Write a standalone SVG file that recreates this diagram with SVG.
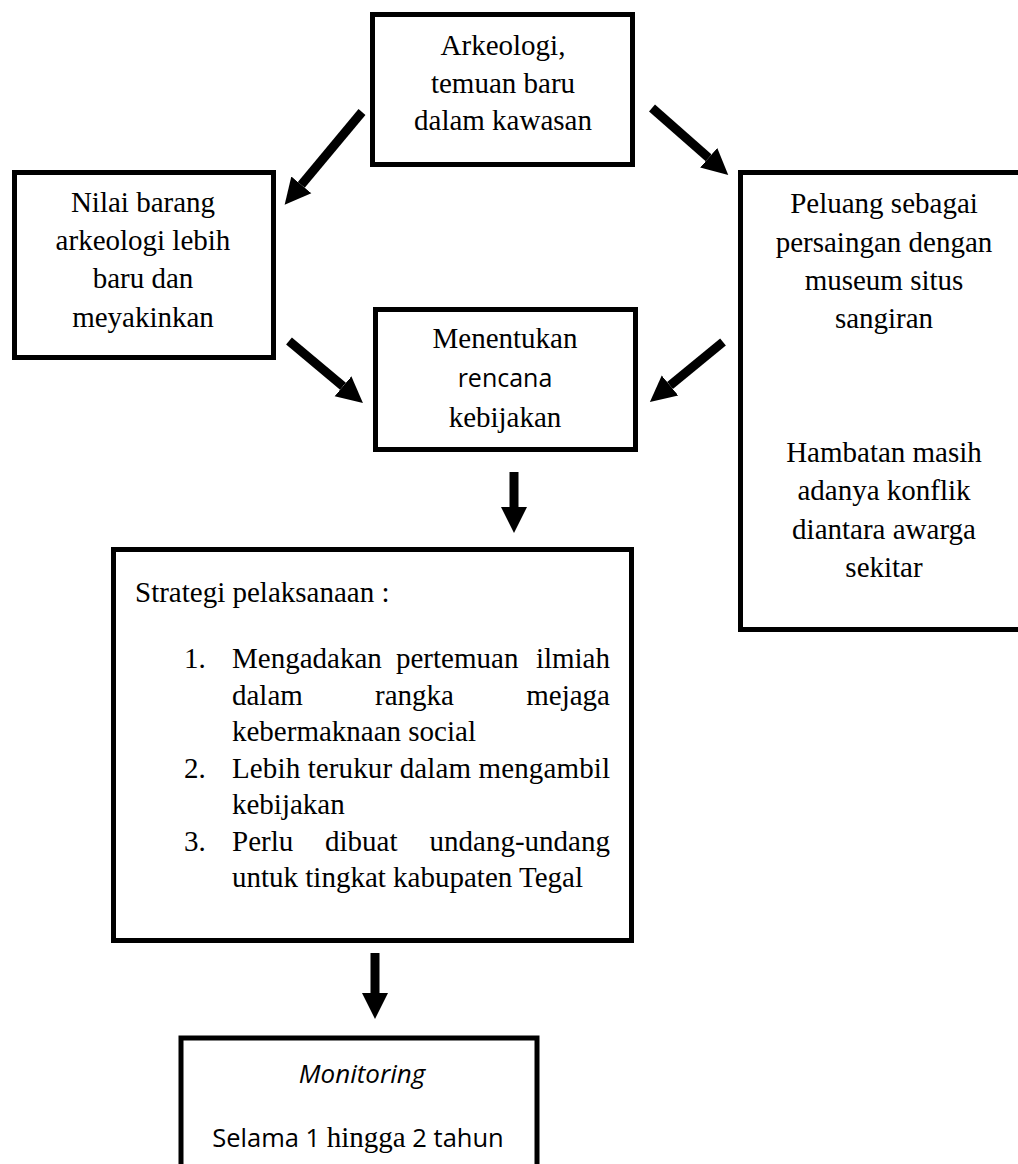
<svg xmlns="http://www.w3.org/2000/svg" width="1018" height="1164" viewBox="0 0 1018 1164">
<style>
.box{fill:#fff;stroke:#000;stroke-width:5}
.t{font-family:"Liberation Serif","Times New Roman",serif;font-size:29px;fill:#000}
.c{text-anchor:middle}
.s{font-family:"Open Sans","Noto Sans",sans-serif;fill:#000}
.conn{stroke:#000;stroke-width:9;fill:none}
</style>
<defs>
<marker id="ah" markerUnits="userSpaceOnUse" markerWidth="28" markerHeight="30" viewBox="0 -15 28 30" refX="0" refY="0" orient="auto">
<path d="M0,-13 L26,0 L0,13 z" fill="#000"/>
</marker>
</defs>
<rect width="1018" height="1164" fill="#fff"/>
<g id="connectors">
<line class="conn" x1="362" y1="112" x2="301.3" y2="184.8" marker-end="url(#ah)"/>
<line class="conn" x1="652" y1="108" x2="708.7" y2="157.8" marker-end="url(#ah)"/>
<line class="conn" x1="289" y1="341" x2="343" y2="386.3" marker-end="url(#ah)"/>
<line class="conn" x1="723" y1="342" x2="670" y2="385.5" marker-end="url(#ah)"/>
<line class="conn" x1="514" y1="472" x2="514" y2="507" marker-end="url(#ah)"/>
<line class="conn" x1="375" y1="953" x2="375" y2="993" marker-end="url(#ah)"/>
</g>
<g id="node-arkeologi">
<rect class="box" x="372.5" y="14.5" width="260" height="150"/>
<text class="t c" x="503" y="55">Arkeologi,</text>
<text class="t c" x="503" y="92.5">temuan baru</text>
<text class="t c" x="503" y="130">dalam kawasan</text>
</g>
<g id="node-nilai">
<rect class="box" x="14.5" y="172.5" width="259" height="185"/>
<text class="t c" x="143" y="212">Nilai barang</text>
<text class="t c" x="143" y="250">arkeologi lebih</text>
<text class="t c" x="143" y="288">baru dan</text>
<text class="t c" x="143" y="327">meyakinkan</text>
</g>
<g id="node-peluang">
<rect class="box" x="740.5" y="172.5" width="300" height="457"/>
<text class="t c" x="884" y="213">Peluang sebagai</text>
<text class="t c" x="884" y="252">persaingan dengan</text>
<text class="t c" x="884" y="290">museum situs</text>
<text class="t c" x="884" y="328">sangiran</text>
<text class="t c" x="884" y="462">Hambatan masih</text>
<text class="t c" x="884" y="500">adanya konflik</text>
<text class="t c" x="884" y="539">diantara awarga</text>
<text class="t c" x="884" y="577">sekitar</text>
</g>
<g id="node-menentukan">
<rect class="box" x="375.5" y="309.5" width="260" height="140"/>
<text class="t c" x="505" y="348">Menentukan</text>
<text class="s c" x="505" y="387" font-size="25">rencana</text>
<text class="t c" x="505" y="427">kebijakan</text>
</g>
<g id="node-strategi">
<rect class="box" x="113.5" y="549.5" width="518" height="391"/>
<text class="t" x="135" y="602">Strategi pelaksanaan :</text>
<text class="t" x="184" y="668">1.</text>
<text class="t" x="232" y="668">Mengadakan</text>
<text class="t" x="396" y="668">pertemuan</text>
<text class="t" x="610" y="668" text-anchor="end">ilmiah</text>
<text class="t" x="232" y="704.5">dalam</text>
<text class="t" x="375" y="704.5">rangka</text>
<text class="t" x="610" y="704.5" text-anchor="end">mejaga</text>
<text class="t" x="232" y="741">kebermaknaan social</text>
<text class="t" x="184" y="777.5">2.</text>
<text class="t" x="232" y="777.5" textLength="378" lengthAdjust="spacing">Lebih terukur dalam mengambil</text>
<text class="t" x="232" y="814">kebijakan</text>
<text class="t" x="184" y="850.5">3.</text>
<text class="t" x="232" y="850.5">Perlu</text>
<text class="t" x="325" y="850.5">dibuat</text>
<text class="t" x="610" y="850.5" text-anchor="end">undang-undang</text>
<text class="t" x="232" y="887">untuk tingkat kabupaten Tegal</text>
</g>
<g id="node-monitoring">
<rect class="box" x="181" y="1038" width="356" height="200" stroke-width="6"/>
<text class="s c" x="362" y="1083" font-size="26" font-style="italic">Monitoring</text>
<text class="s c" x="358" y="1147" font-size="25.5">Selama 1 <tspan font-family="Liberation Serif, serif" font-size="29">hingga</tspan> 2 tahun</text>
</g>
</svg>
